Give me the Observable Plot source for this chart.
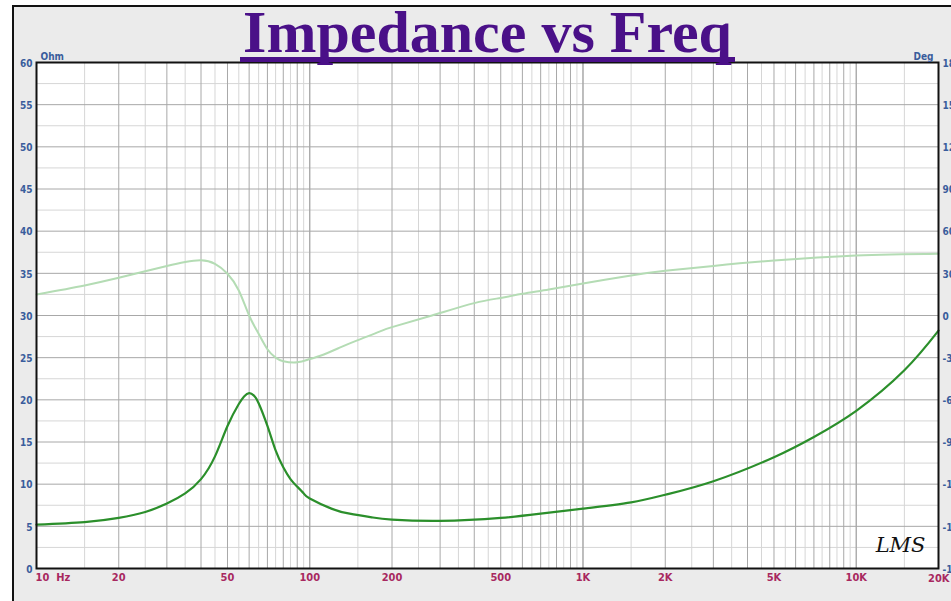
<!DOCTYPE html>
<html>
<head>
<meta charset="utf-8">
<script src="https://cdn.jsdelivr.net/npm/d3@7"></script>
<script src="https://cdn.jsdelivr.net/npm/@observablehq/plot@0.6"></script>
<style>
  html, body { margin: 0; padding: 0; background: #ffffff; overflow: hidden; }
  #wrap { position: relative; width: 951px; height: 601px; overflow: hidden; }
  #bg { position: absolute; left: 12px; top: 5px; width: 960px; height: 620px;
        border-left: 2px solid #111; border-top: 2px solid #111; background: #ebebeb; }
  #chart { position: absolute; left: 0; top: 0; }
  #title { position: absolute; left: 0; width: 975px; top: 2px; text-align: center;
           font-family: "Liberation Serif", "Times New Roman", serif; font-weight: bold;
           font-size: 60px; line-height: 60px; color: #4a1088; white-space: nowrap; }
  #uline { position: absolute; left: 240px; top: 57px; width: 495px; height: 5px; background: #4a1088; }
</style>
</head>
<body>
<div id="wrap">
  <div id="bg"></div>
  <div id="chart"></div>
  <div id="uline"></div>
  <div id="title">Impedance vs Freq</div>
</div>
<script>
// ---- data ----
const impFreq = [10,15,20,25,30,35,40,45,50,55,57.5,60,62.5,65,70,75,80,85,90,95,100,120,140,170,200,300,500,700,1000,1500,2000,3000,5000,7000,10000,15000,20000];
const impOhm  = [5.2,5.5,6.0,6.7,7.7,8.9,10.6,13.3,16.9,19.5,20.4,20.8,20.5,19.6,16.9,14.0,12.0,10.6,9.7,8.9,8.3,7.1,6.5,6.05,5.8,5.65,6.0,6.5,7.1,7.85,8.75,10.35,13.2,15.6,18.7,23.5,28.2];

const phaseFreq = [10,15,20,25,30,35,40,45,50,55,60,65,70,75,80,90,100,110,130,150,180,200,280,400,500,600,750,1000,1500,2000,3000,5000,10000,20000];
const phaseDeg  = [15,21.4,26.8,31.5,35.2,38.0,39.3,36.8,29.7,17.8,0,-13,-24,-30,-32.5,-33.3,-31,-28.5,-22.5,-17.5,-11.5,-8.3,0,8.8,12.5,15.4,18.5,22.8,28.5,31.8,35.3,39.1,42.7,44.0];

const ohmTicks = [0,5,10,15,20,25,30,35,40,45,50,55,60];
const degTicks = [180,150,120,90,60,30,0,-30,-60,-90,-120,-150,-180];
const freqTicks  = [10,20,50,100,200,500,1000,2000,5000,10000,20000];
const freqLabels = ["10  Hz","20","50","100","200","500","1K","2K","5K","10K","20K"];

// ---- grid structure ----
const vDark = [], vLight = [];
for (const b of [10,100,1000,10000]) {
  for (let k = 1; k <= 10; k += 0.5) {
    const f = b * k;
    if (f <= 10 || f >= 20000) continue;
    (Number.isInteger(k) ? vDark : vLight).push(f);
  }
}
const hAll = d3.range(2.5, 60, 2.5);
const hDark = hAll.filter(v => v % 5 === 0);
const hLight = hAll.filter(v => v % 5 !== 0);

const degToOhm = d => 30 + d / 6;

const imp = impFreq.map((f, i) => ({f, v: impOhm[i]}));
const phase = phaseFreq.map((f, i) => ({f, v: degToOhm(phaseDeg[i])}));

const axFont = {fontFamily: "DejaVu Sans Condensed, DejaVu Sans, sans-serif", fontWeight: "bold"};
const blue = "#3a5d9c", maroon = "#a8285f";

const plot = Plot.plot({
  width: 951, height: 601,
  marginLeft: 36, marginRight: 13, marginTop: 62, marginBottom: 33,
  style: {background: "transparent", overflow: "hidden"},
  x: {type: "log", domain: [10, 20000], axis: null},
  y: {domain: [0, 60], axis: null},
  marks: [
    Plot.frame({fill: "white", stroke: null}),
    Plot.ruleY(hLight, {stroke: "#d6d6d6", strokeWidth: 1}),
    Plot.ruleX(vLight, {stroke: "#d6d6d6", strokeWidth: 1}),
    Plot.ruleY(hDark, {stroke: "#a8a8a8", strokeWidth: 1}),
    Plot.ruleX(vDark, {stroke: "#a8a8a8", strokeWidth: 1}),
    Plot.line(phase, {x: "f", y: "v", stroke: "#b4dcb4", strokeWidth: 2, curve: "natural"}),
    Plot.line(imp, {x: "f", y: "v", stroke: "#2b8f2b", strokeWidth: 2.2, curve: "natural"}),
    Plot.frame({stroke: "#111", strokeWidth: 2}),
    // left axis labels
    Plot.text(ohmTicks, {y: d => d, frameAnchor: "left", dx: -4, dy: 1, textAnchor: "end",
      text: d => String(d), fill: blue, fontSize: 10, ...axFont}),
    // right axis labels (degrees)
    Plot.text(degTicks, {y: d => degToOhm(d), frameAnchor: "right", dx: 4, dy: 1, textAnchor: "start",
      text: d => String(d), fill: blue, fontSize: 10, ...axFont}),
    Plot.text(["Ohm"], {frameAnchor: "top-left", dx: 4, dy: -10, textAnchor: "start", text: d => d,
      fill: blue, fontSize: 10, ...axFont}),
    Plot.text(["Deg"], {frameAnchor: "top-right", dx: -5, dy: -10, textAnchor: "end", text: d => d,
      fill: blue, fontSize: 10, ...axFont}),
    // x labels
    Plot.text([0], {x: i => freqTicks[i], frameAnchor: "bottom", dy: 12, textAnchor: "start", dx: -1,
      text: i => freqLabels[i], fill: maroon, fontSize: 11, ...axFont}),
    Plot.text(d3.range(1, freqTicks.length - 1), {x: i => freqTicks[i], frameAnchor: "bottom", dy: 12,
      text: i => freqLabels[i], fill: maroon, fontSize: 11, ...axFont}),
    Plot.text([freqTicks.length - 1], {x: i => freqTicks[i], frameAnchor: "bottom", dy: 13, textAnchor: "end", dx: 11,
      text: i => freqLabels[i], fill: maroon, fontSize: 11, ...axFont}),
    // LMS logo
    Plot.text(["LMS"], {frameAnchor: "bottom-right", dx: -13, dy: -17, textAnchor: "end", text: d => d,
      fill: "#111", fontSize: 21, fontStyle: "italic", fontFamily: "DejaVu Serif, serif"})
  ]
});
document.getElementById("chart").appendChild(plot);
</script>
</body>
</html>
